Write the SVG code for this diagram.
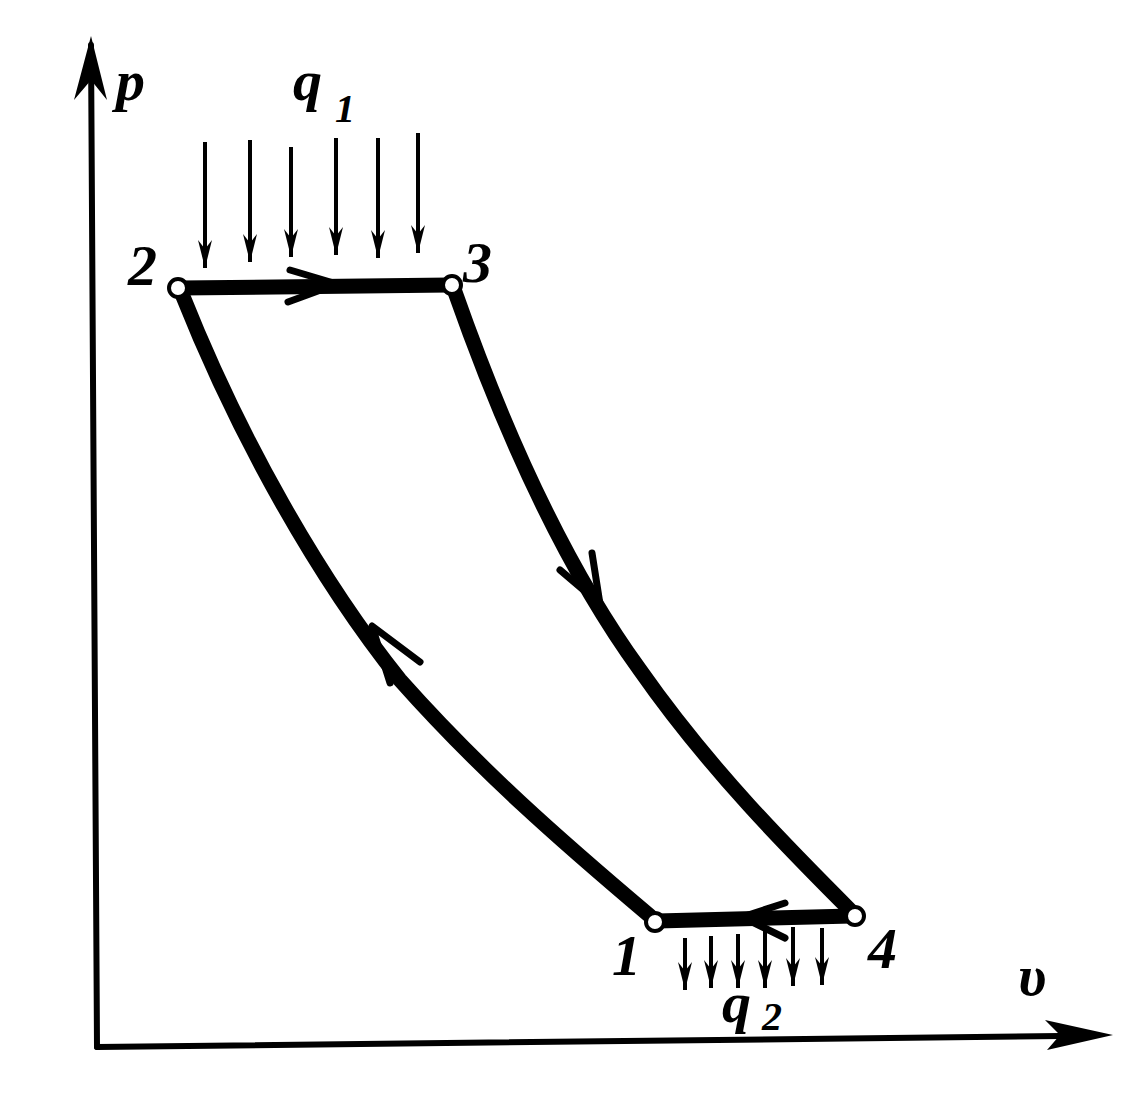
<svg xmlns="http://www.w3.org/2000/svg" width="1138" height="1101" viewBox="0 0 1138 1101">
<style>
.axis{stroke:#000;stroke-width:6;fill:none;stroke-linecap:round}
.cyc{stroke:#000;stroke-width:15;fill:none;stroke-linecap:round}
.chev{stroke:#000;stroke-width:7;fill:none;stroke-linecap:round;stroke-linejoin:round}
.heat{stroke:#000;stroke-width:4;fill:none;marker-end:url(#ah)}
.pt{fill:#fff;stroke:#000;stroke-width:4}
.lbl{font-family:"Liberation Serif",serif;font-style:italic;font-weight:bold;font-size:58px;fill:#000}
.sub{font-family:"Liberation Serif",serif;font-style:italic;font-weight:bold;font-size:40px;fill:#000}
</style>
<defs>
<marker id="ah" viewBox="0 0 28 14" refX="28" refY="7" markerWidth="28" markerHeight="14" markerUnits="userSpaceOnUse" orient="auto">
<path d="M0,0 L28,7 L0,14 L9,7 Z" fill="#000"/>
</marker>
</defs>
<rect width="1138" height="1101" fill="#fff"/>
<g id="axes">
<path class="axis" d="M97,1047 L91,45"/>
<path d="M91,36 L74,100 L91,80 L107,100 Z" fill="#000"/>
<path class="axis" d="M97,1047 L1060,1036"/>
<path d="M1113,1035 L1045,1020 L1060,1035 L1047,1050 Z" fill="#000"/>
</g>
<g id="connectors">
<path class="cyc" d="M180,288 L450,285"/>
<path class="chev" d="M290,270 L337,284 L288,302"/>
<path class="cyc" d="M455,292 C500,420 560,560 640,670 C710,770 790,850 852,912"/>
<path class="chev" d="M560,570 L600,604 L592,553"/>
<path class="cyc" d="M852,916 L657,921"/>
<path class="chev" d="M785,903 L742,917 L785,938"/>
<path class="cyc" d="M650,916 C560,840 480,770 400,680 C320,580 240,440 182,294"/>
<path class="chev" d="M420,662 L372,626 L390,683"/>
</g>
<g id="heat-in">
<path class="heat" d="M205,142 L205,268"/>
<path class="heat" d="M250,140 L250,262"/>
<path class="heat" d="M291,147 L291,257"/>
<path class="heat" d="M336,138 L336,255"/>
<path class="heat" d="M378,138 L378,258"/>
<path class="heat" d="M418,133 L418,253"/>
</g>
<g id="heat-out">
<path class="heat" d="M685,938 L685,990"/>
<path class="heat" d="M711,936 L711,988"/>
<path class="heat" d="M738,934 L738,988"/>
<path class="heat" d="M765,930 L765,988"/>
<path class="heat" d="M793,927 L793,986"/>
<path class="heat" d="M822,928 L822,985"/>
</g>
<g id="node-2"><circle class="pt" cx="178" cy="288" r="9"/><text class="lbl" x="128" y="285" font-size="50">2</text></g>
<g id="node-3"><circle class="pt" cx="452" cy="285" r="9"/><text class="lbl" x="463" y="282" font-size="50">3</text></g>
<g id="node-4"><circle class="pt" cx="855" cy="916" r="9"/><text class="lbl" x="868" y="968" font-size="50">4</text></g>
<g id="node-1"><circle class="pt" cx="655" cy="922" r="9"/><text class="lbl" x="612" y="975" font-size="50">1</text></g>
<g id="labels">
<text class="lbl" x="116" y="100" font-size="66">p</text>
<text class="lbl" x="293" y="100" font-size="66">q</text>
<text class="sub" x="335" y="122">1</text>
<text class="lbl" x="722" y="1022" font-size="60">q</text>
<text class="sub" x="762" y="1030">2</text>
<text class="lbl" x="1018" y="995" font-size="62">υ</text>
</g>
</svg>
